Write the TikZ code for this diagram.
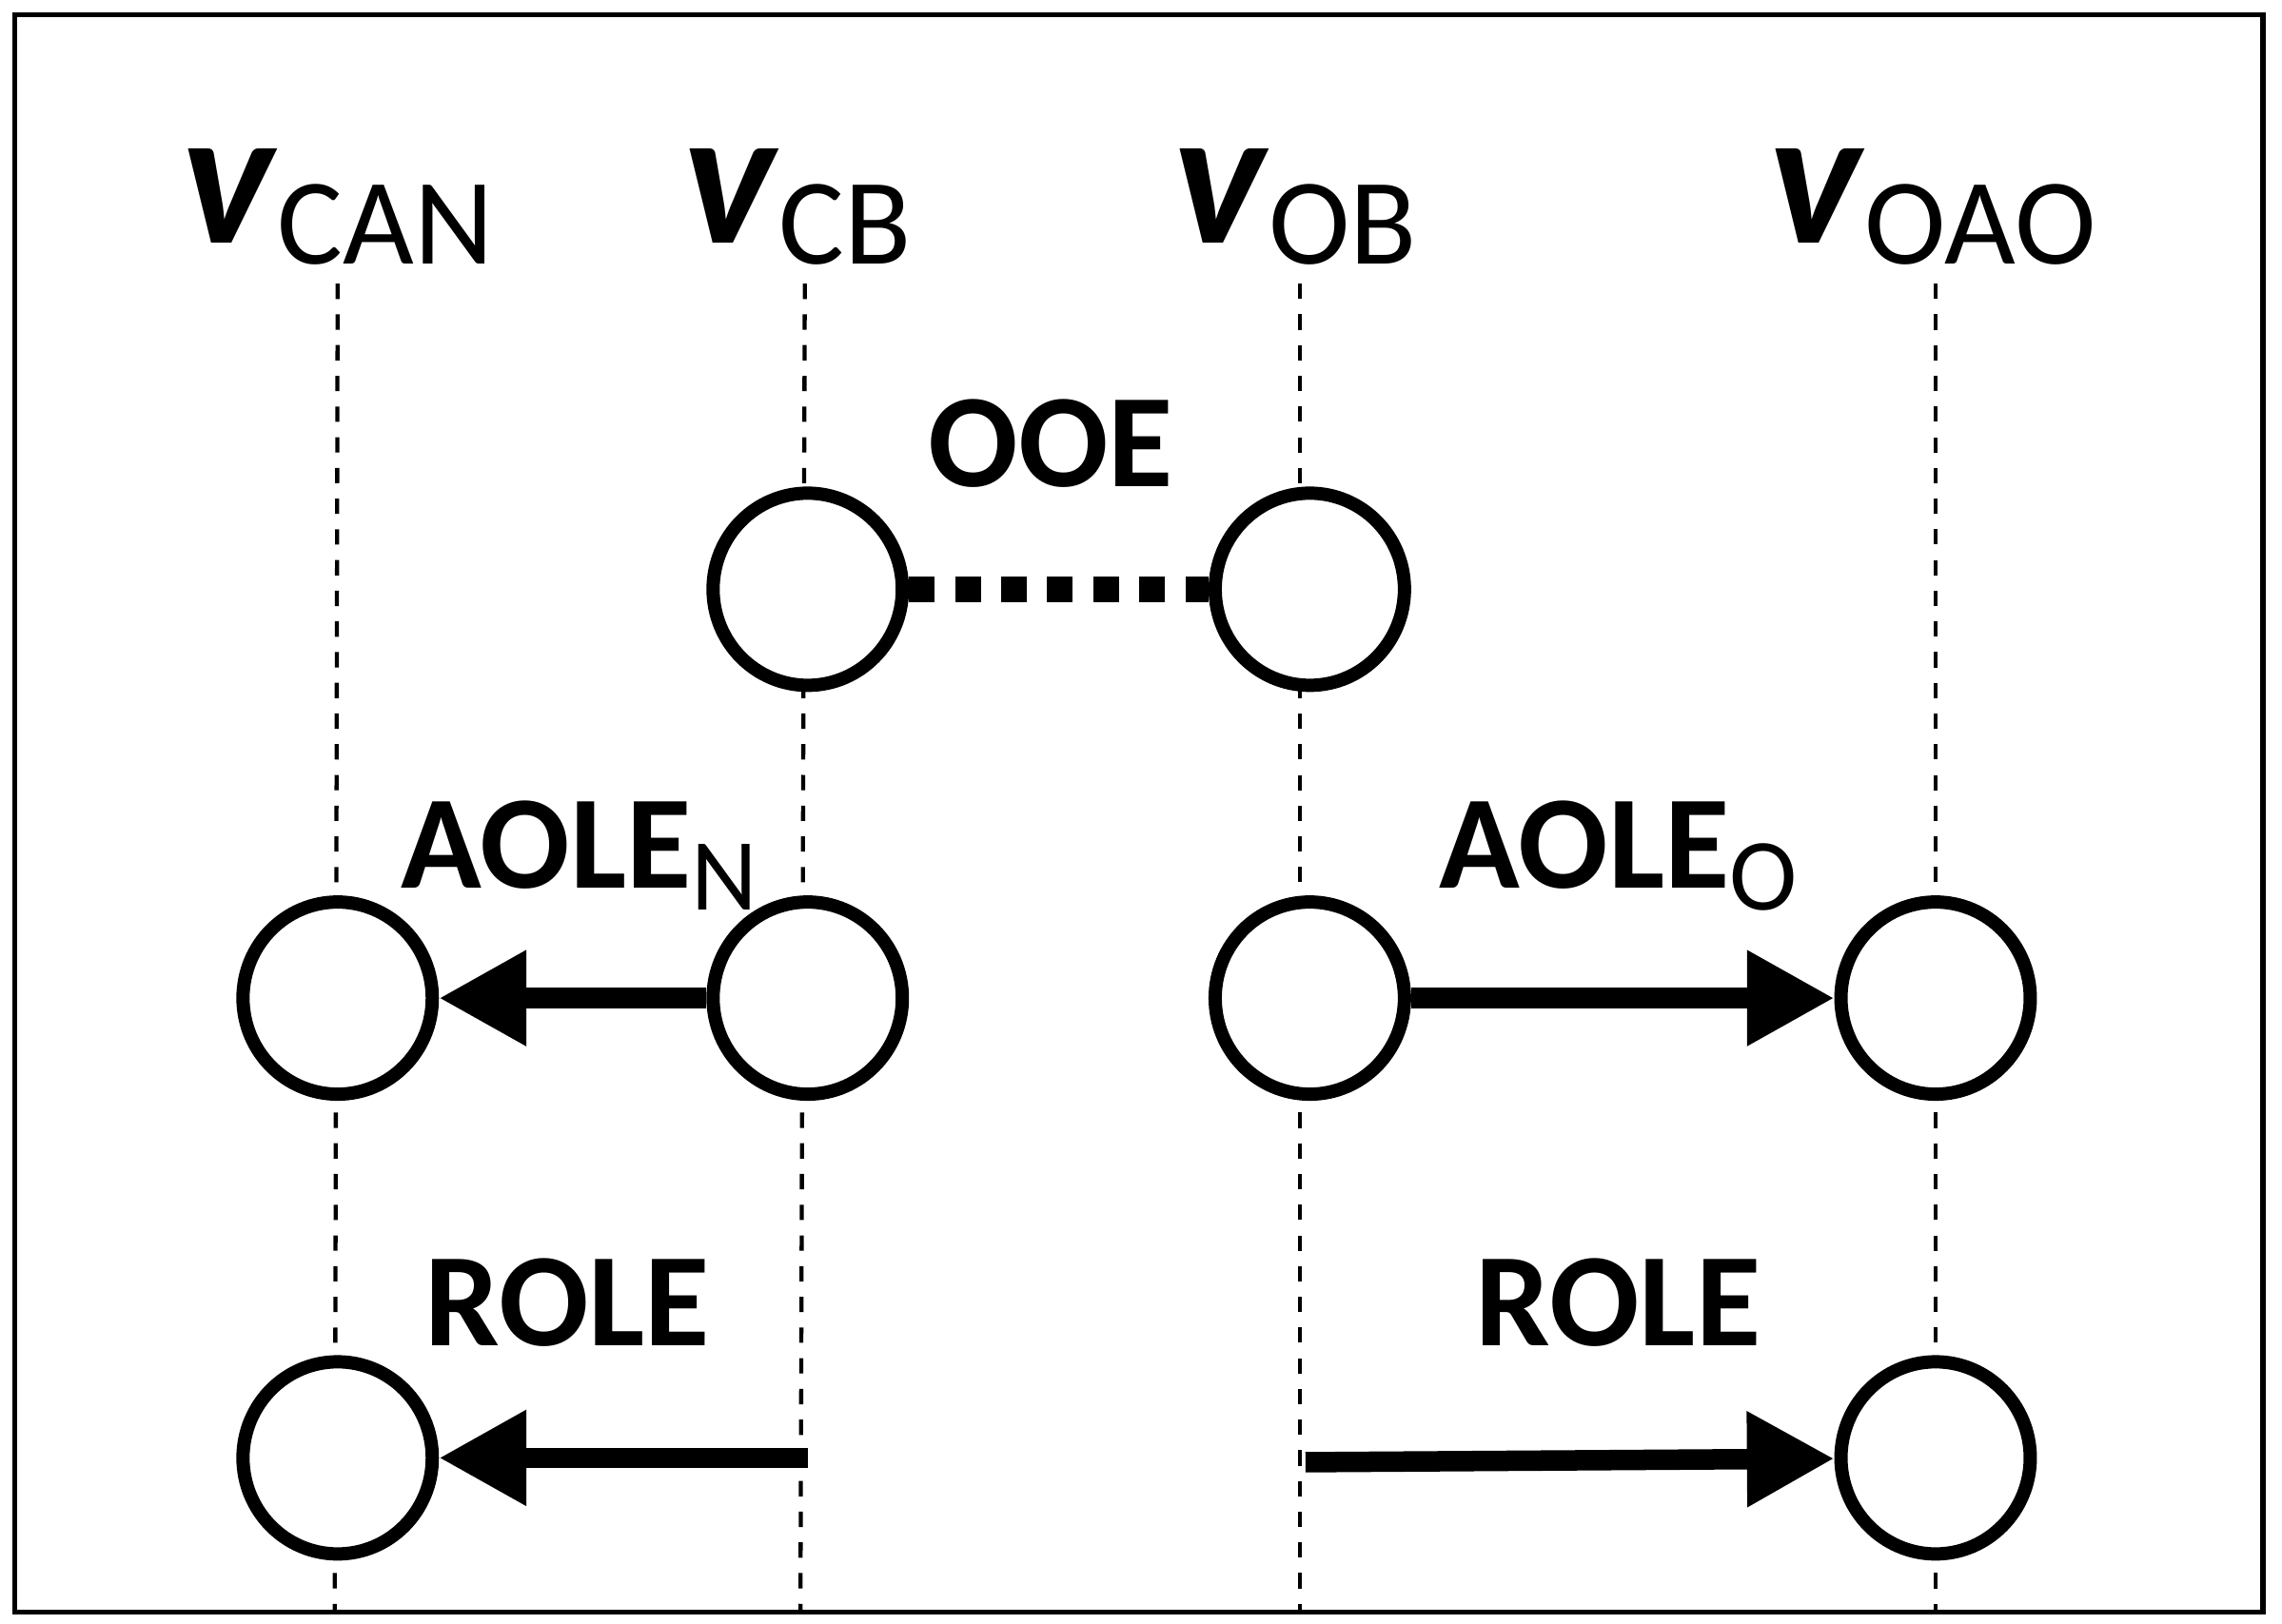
\documentclass[tikz,border=0pt]{standalone}
\usepackage{fontspec}
\setmainfont{Carlito}
\usetikzlibrary{arrows.meta,shapes.geometric}
\newcommand{\vsub}[1]{{\fontsize{38}{38}\selectfont\textbf{\textit{v}}}{\fontsize{24}{24}\selectfont\raisebox{-0.35ex}{#1}}}
\begin{document}
\begin{tikzpicture}[x=0.01cm,y=-0.01cm,
  circ/.style={draw,fill=white,line width=2.6pt,ellipse,minimum width=1.3cm,minimum height=1.32cm,inner sep=0pt},
  life/.style={dashed,line width=0.8pt},
  arr/.style={line width=4pt,-{Triangle[length=0.6cm,width=0.62cm]}},
  lab/.style={font=\fontsize{26}{28}\selectfont\bfseries},
  sb/.style={font=\fontsize{20}{20}\selectfont}]
\useasboundingbox (0,0) rectangle (1568,1116);
\draw[line width=1pt] (10,10) rectangle (1555,1108);
% heads
\node (hCAN) at (232,142) {\vsub{CAN}};
\node (hCB) at (548,142) {\vsub{CB}};
\node (hOB) at (890,142) {\vsub{OB}};
\node (hOAO) at (1328,142) {\vsub{OAO}};
\coordinate (tCAN) at (232,195); \coordinate (bCAN) at (230,1108);
\coordinate (tCB) at (553,195); \coordinate (bCB) at (550,1108);
\coordinate (tOB) at (893,195); \coordinate (bOB) at (893,1108);
\coordinate (tOAO) at (1330,195); \coordinate (bOAO) at (1330,1108);
\draw[life] (tCAN) -- (bCAN);
\draw[life] (tCB) -- (bCB);
\draw[life] (tOB) -- (bOB);
\draw[life] (tOAO) -- (bOAO);
% circles
\node[circ] (c1) at (555,405) {};
\node[circ] (c2) at (900,405) {};
\node[circ] (c3) at (232,686) {};
\node[circ] (c4) at (555,686) {};
\node[circ] (c5) at (900,686) {};
\node[circ] (c6) at (1330,686) {};
\node[circ] (c7) at (232,1002) {};
\node[circ] (c8) at (1330,1002) {};
\draw[line width=5pt,dash pattern=on 5pt off 4pt] (c1) -- (c2);
\draw[arr] (c4) -- (c3);
\draw[arr] (c5) -- (c6);
\coordinate (s1) at (555,1002); \coordinate (s2) at (897,1005);
\draw[arr] (s1) -- (c7);
\draw[arr] (s2) -- (c8);
% labels
\node[lab] (l1) at (722,305) {OOE};
\node[lab] (l2) at (398,588) {AOLE{\fontsize{20}{20}\selectfont\mdseries\raisebox{-0.45ex}{N}}};
\node[lab] (l3) at (1112,588) {AOLE{\fontsize{20}{20}\selectfont\mdseries\raisebox{-0.45ex}{O}}};
\node[lab] (l4) at (390,895) {ROLE};
\node[lab] (l5) at (1112,895) {ROLE};
\end{tikzpicture}
\end{document}
